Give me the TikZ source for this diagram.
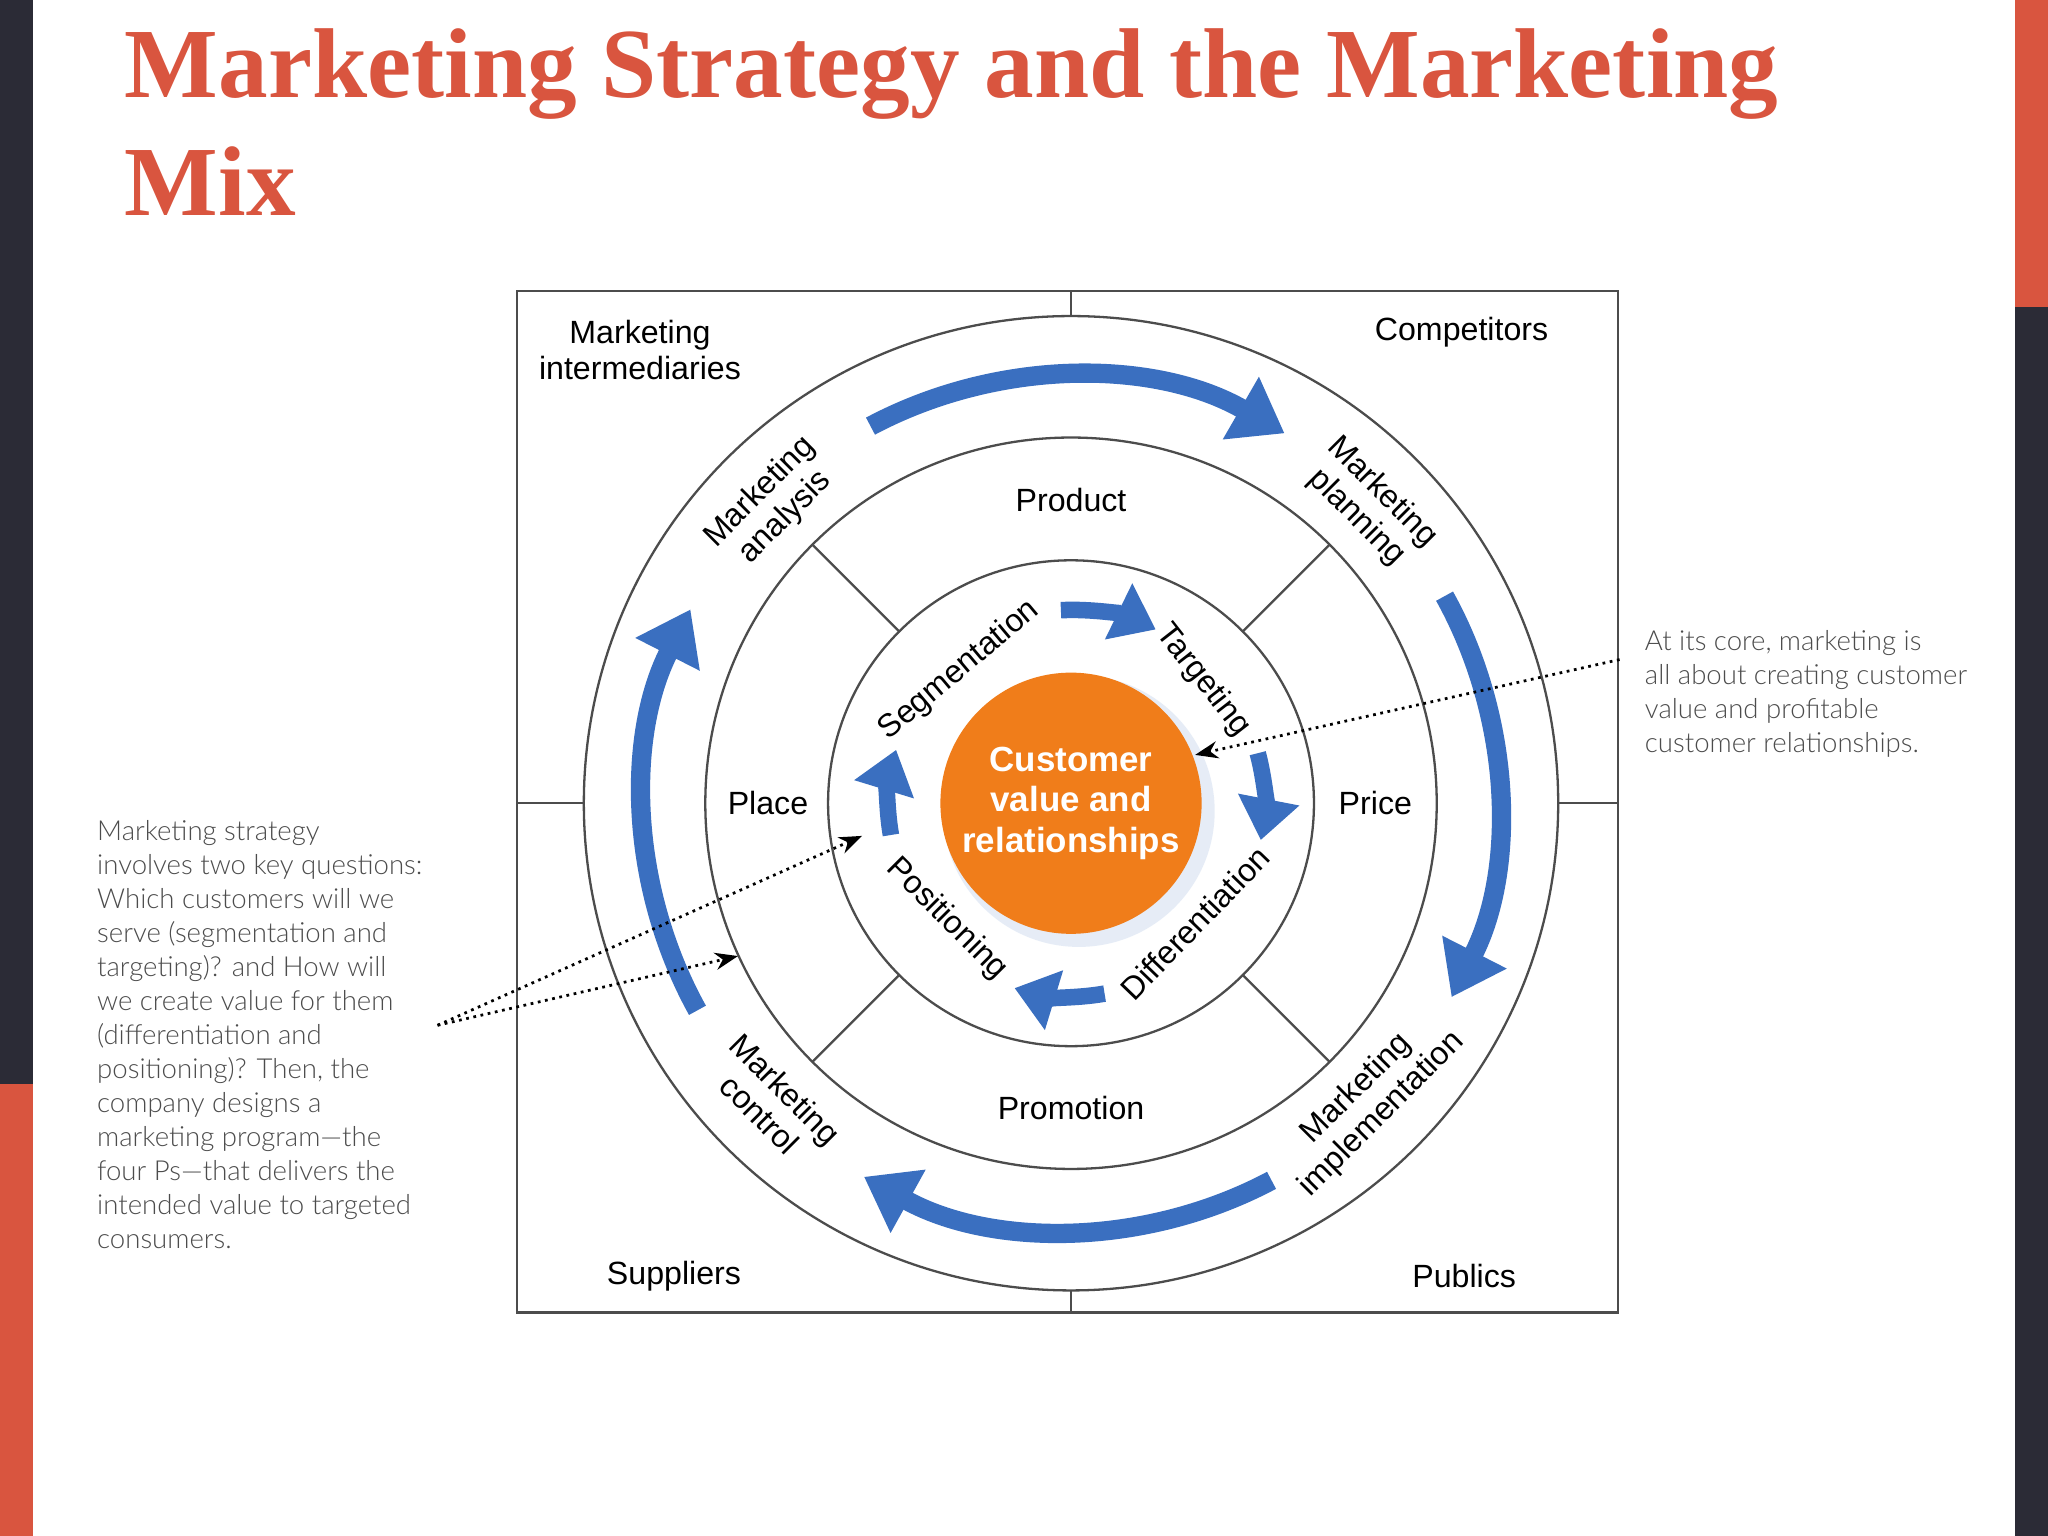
\documentclass[tikz,border=0pt]{standalone}
\usepackage{fontspec}
\setmainfont{Liberation Serif}
\newfontfamily\lab{Liberation Sans}
\newfontfamily\hand{Lato Light}
\usetikzlibrary{arrows.meta,calc}
\definecolor{titlered}{HTML}{D9553F}
\definecolor{darkbar}{HTML}{2B2B36}
\definecolor{blu}{HTML}{3A6FC0}
\definecolor{orng}{HTML}{F07D1A}
\tikzset{
  lbl/.style={font=\lab\fontsize{7}{7.8}\selectfont, align=center, text=black, inner sep=1pt},
  ann/.style={font=\hand\fontsize{6}{7.4}\selectfont, align=left, text=black!70, anchor=north west},
  bigarr/.style={blu, line width=4.2pt, -{Triangle[length=11pt,width=15pt]}},
  smallarr/.style={blu, line width=3.6pt, -{Triangle[length=9pt,width=13pt]}},
  ring/.style={draw=black!70, line width=0.5pt},
  dot/.style={densely dotted, line width=0.6pt, -{Stealth[length=5pt]}}
}
\begin{document}
\begin{tikzpicture}[x=0.01cm,y=0.01cm]
\useasboundingbox (0,0) rectangle (1568,1176);
\fill[white] (0,0) rectangle (1568,1176);
\fill[darkbar] (0,346) rectangle (25,1176);
\fill[titlered] (0,0) rectangle (25,346);
\fill[titlered] (1543,941) rectangle (1568,1176);
\fill[darkbar] (1543,0) rectangle (1568,941);
\node[anchor=base west, text=titlered, font=\bfseries\fontsize{21.6}{26}\selectfont, inner sep=0] (t1) at (95,1101) {Marketing Strategy and the Marketing};
\node[anchor=base west, text=titlered, font=\bfseries\fontsize{21.6}{26}\selectfont, inner sep=0] (t2) at (95,1011) {Mix};
\draw[ring] (396,171) rectangle (1239,953);
\coordinate (c) at (820,561);
\draw[ring] (c) circle (373);
\draw[ring] (c) circle (280);
\draw[ring] (c) circle (186);
\draw[ring] (820,953) -- (820,934);
\draw[ring] (820,171) -- (820,188);
\draw[ring] (396,561) -- (447,561);
\draw[ring] (1193,561) -- (1239,561);
\foreach \a in {45,135,225,315} \draw[ring] (c) ++(\a:186) -- ++(\a:94);
\fill[blu!25, opacity=0.5] (826,555) circle (104);
\fill[orng] (c) circle (100);
\node[font=\lab\bfseries\fontsize{7.6}{8.8}\selectfont, text=white, align=center] (cv) at (c) {Customer\\value and\\relationships};
\node[lbl] (prod) at (820,793) {Product};
\node[lbl] (place) at (588,561) {Place};
\node[lbl] (price) at (1053,561) {Price};
\node[lbl] (promo) at (820,328) {Promotion};
\node[lbl] (mi) at (490,908) {Marketing\\intermediaries};
\node[lbl] (comp) at (1119,922) {Competitors};
\node[lbl] (sup) at (516,199) {Suppliers};
\node[lbl] (pub) at (1121,199) {Publics};
\node[lbl, rotate=45] (ma) at ($(c)+(135:323)$) {Marketing\\analysis};
\node[lbl, rotate=-45] (mp) at ($(c)+(45:323)$) {Marketing\\planning};
\node[lbl, rotate=45] (mim) at ($(c)+(-45:323)$) {Marketing\\implementation};
\node[lbl, rotate=-45] (mc) at ($(c)+(-135:323)$) {Marketing\\control};
\node[lbl, rotate=40] (seg) at ($(c)+(130:133)$) {Segmentation};
\node[lbl, rotate=-52] (tar) at ($(c)+(43:138)$) {Targeting};
\node[lbl, rotate=46] (dif) at ($(c)+(-44:132)$) {Differentiation};
\node[lbl, rotate=-45] (pos) at ($(c)+(-137:130)$) {Positioning};
\draw[bigarr] (c) ++(118:327) arc (118:60:327);
\draw[bigarr] (c) ++(29:327) arc (29:-27:327);
\draw[bigarr] (c) ++(-62:327) arc (-62:-119:327);
\draw[bigarr] (c) ++(-151:327) arc (-151:-207:327);
\draw[smallarr] (c) ++(93:148) arc (93:64:148);
\draw[smallarr] (c) ++(15:148) arc (15:-11:148);
\draw[smallarr] (c) ++(-80:148) arc (-80:-107:148);
\draw[smallarr] (c) ++(190:140) arc (190:163:140);
\node[ann] (rt) at (1247,706) {At its core, marketing is\\all about creating customer\\value and profitable\\customer relationships.};
\node[ann] (lt) at (62,560) {Marketing strategy\\involves two key questions:\\Which customers will we\\serve (segmentation and\\targeting)? and How will\\we create value for them\\(differentiation and\\positioning)? Then, the\\company designs a\\marketing program—the\\four Ps—that delivers the\\intended value to targeted\\consumers.};
\coordinate (rs) at (1240,671);
\coordinate (ls) at (335,391);
\coordinate (re) at (915,598);
\coordinate (le1) at (660,536);
\coordinate (le2) at (565,444);
\draw[dot] (rs) -- (re);
\draw[dot] (ls) -- (le1);
\draw[dot] (ls) -- (le2);
\end{tikzpicture}
\end{document}
